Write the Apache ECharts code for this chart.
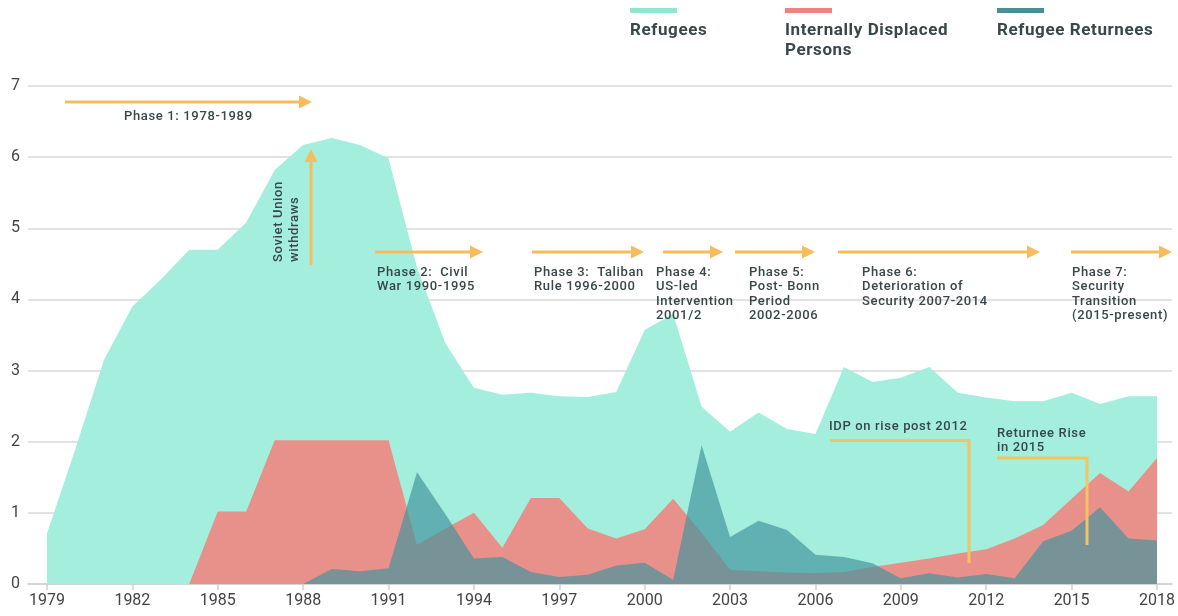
<!DOCTYPE html>
<html>
<head>
<meta charset="utf-8">
<script src="https://cdn.jsdelivr.net/npm/echarts@6/dist/echarts.min.js"></script>
<style>
html,body{margin:0;padding:0;background:#fff;}
#chart{width:1178px;height:616px;}
</style>
</head>
<body>
<div id="chart"></div>
<script>
var years = [];
for (var y = 1979; y <= 2018; y++) years.push(y);
var tickYears = [1979,1982,1985,1988,1991,1994,1997,2000,2003,2006,2009,2012,2015,2018];

var refugees = [0.71,1.9,3.15,3.9,4.28,4.7,4.7,5.08,5.82,6.17,6.27,6.17,5.98,4.45,3.38,2.76,2.66,2.69,2.64,2.63,2.7,3.57,3.8,2.49,2.14,2.41,2.18,2.11,3.05,2.84,2.9,3.05,2.69,2.62,2.57,2.57,2.69,2.53,2.64,2.64];
var idp = [0,0,0,0,0,0,1.02,1.02,2.02,2.02,2.02,2.02,2.02,0.55,0.78,1.0,0.51,1.21,1.21,0.78,0.64,0.77,1.2,0.72,0.2,0.18,0.16,0.15,0.17,0.24,0.3,0.36,0.43,0.49,0.64,0.83,1.2,1.56,1.3,1.77];
var returnees = [0,0,0,0,0,0,0,0,0,0,0.21,0.18,0.22,1.57,0.98,0.36,0.38,0.17,0.1,0.13,0.26,0.3,0.06,1.95,0.66,0.89,0.76,0.41,0.38,0.29,0.08,0.15,0.09,0.14,0.08,0.6,0.75,1.08,0.64,0.61];

var seriesNames = ['Refugees', 'Internally Displaced\nPersons', 'Refugee Returnees'];

function pairs(vals) { return years.map(function (yr, i) { return [yr, vals[i]]; }); }

// slight letter spacing for the annotation / legend texts (left-aligned only)
(function () {
  var proto = CanvasRenderingContext2D.prototype;
  var orig = proto.fillText;
  proto.fillText = function () {
    var f = this.font || '';
    if ('letterSpacing' in this) {
      if (/\b(bold|700)\b/.test(f)) this.letterSpacing = '0.6px';
      else if (/\b500\b/.test(f)) this.letterSpacing = '0.65px';
      else this.letterSpacing = '0px';
    }
    return orig.apply(this, arguments);
  };
})();

var ORANGE = '#f6bd5f';
var TXT = '#394749';
var FONT = 'Roboto, "Noto Sans", sans-serif';

function hArrow(x1, x2, y) {
  return [
    { type: 'line', shape: { x1: x1, y1: y, x2: x2 - 10, y2: y }, style: { stroke: ORANGE, lineWidth: 3 }, z: 50 },
    { type: 'polygon', shape: { points: [[x2 - 13, y - 6.5], [x2, y], [x2 - 13, y + 6.5]] }, style: { fill: ORANGE }, z: 50 }
  ];
}
function label(text, x, y, opts) {
  opts = opts || {};
  return {
    type: 'text', x: x, y: y, z: 60, rotation: opts.rotation || 0,
    style: {
      text: text, fill: TXT, fontFamily: FONT, fontSize: opts.size || 13,
      fontWeight: opts.weight || 500, lineHeight: opts.lh || 14.6,
      align: opts.align || 'left', verticalAlign: opts.va || 'middle'
    }
  };
}

var graphics = [];
// legend
var legendColors = ['#8fe6d1', '#ee837d', '#4b8d97'];
var legendX = [630, 785, 997];
for (var i = 0; i < 3; i++) {
  graphics.push({ type: 'rect', shape: { x: legendX[i], y: 8, width: 47, height: 5 }, style: { fill: legendColors[i] }, z: 60 });
  graphics.push(label(seriesNames[i], legendX[i], 21, { size: 17, weight: 700, lh: 20, va: 'top' }));
}
// phase arrows
graphics = graphics.concat(hArrow(65, 312, 102));
graphics.push(label('Phase 1: 1978-1989', 124, 117));
// vertical arrow
graphics.push({ type: 'line', shape: { x1: 311, y1: 265, x2: 311, y2: 160 }, style: { stroke: ORANGE, lineWidth: 3 }, z: 50 });
graphics.push({ type: 'polygon', shape: { points: [[304.5, 162], [311, 149], [317.5, 162]] }, style: { fill: ORANGE }, z: 50 });
graphics.push(label('Soviet Union\nwithdraws', 287, 262, { rotation: Math.PI / 2, lh: 16 }));

graphics = graphics.concat(hArrow(375, 483, 252));
graphics.push(label('Phase 2:  Civil\nWar 1990-1995', 377, 265, { va: 'top' }));
graphics = graphics.concat(hArrow(532, 644, 252));
graphics.push(label('Phase 3:  Taliban\nRule 1996-2000', 534, 265, { va: 'top' }));
graphics = graphics.concat(hArrow(663, 723, 252));
graphics.push(label('Phase 4:\nUS-led\nIntervention\n2001/2', 656, 265, { va: 'top' }));
graphics = graphics.concat(hArrow(735, 815, 252));
graphics.push(label('Phase 5:\nPost- Bonn\nPeriod\n2002-2006', 749, 265, { va: 'top' }));
graphics = graphics.concat(hArrow(838, 1040, 252));
graphics.push(label('Phase 6:\nDeterioration of\nSecurity 2007-2014', 862, 265, { va: 'top' }));
graphics = graphics.concat(hArrow(1071, 1172, 252));
graphics.push(label('Phase 7:\nSecurity\nTransition\n(2015-present)', 1072, 265, { va: 'top' }));

// IDP annotation
graphics.push({ type: 'polyline', shape: { points: [[830, 440.5], [969, 440.5], [969, 563]] }, style: { stroke: '#f2c462', lineWidth: 3, fill: null }, z: 50 });
graphics.push(label('IDP on rise post 2012', 829, 427));
graphics.push({ type: 'polyline', shape: { points: [[997, 458], [1087, 458], [1087, 545]] }, style: { stroke: '#f2c462', lineWidth: 3, fill: null }, z: 50 });
graphics.push(label('Returnee Rise\nin 2015', 997, 426, { va: 'top' }));

var chart = echarts.init(document.getElementById('chart'));
chart.setOption({
  animation: false,
  backgroundColor: '#fff',
  grid: { left: 28, right: 6, top: 86, bottom: 32, containLabel: false },
  xAxis: {
    type: 'value', min: 1978.333, max: 2018.527,
    axisLine: { show: true, lineStyle: { color: '#cfcfcf', width: 1.5 } },
    axisTick: { show: true, length: 6, lineStyle: { color: '#cfcfcf', width: 1.5 }, customValues: tickYears },
    axisLabel: { customValues: tickYears, color: '#444', fontSize: 16, fontFamily: FONT, margin: 9, formatter: function (v) { return String(v); } },
    splitLine: { show: false }
  },
  yAxis: {
    type: 'value', min: 0, max: 7, interval: 1,
    axisLine: { show: false }, axisTick: { show: false },
    axisLabel: { color: '#444', fontSize: 16, fontFamily: FONT, margin: 8 },
    splitLine: { show: true, lineStyle: { color: '#d9d9d9', width: 1.5 } }
  },
  series: [
    { name: seriesNames[0], type: 'line', data: pairs(refugees), symbol: 'none', lineStyle: { width: 0 }, areaStyle: { color: '#a3eedd', opacity: 1 }, z: 2 },
    { name: seriesNames[1], type: 'line', data: pairs(idp), symbol: 'none', lineStyle: { width: 0 }, areaStyle: { color: '#e8918a', opacity: 1 }, z: 3 },
    { name: seriesNames[2], type: 'line', data: pairs(returnees), symbol: 'none', lineStyle: { width: 0 }, areaStyle: { color: 'rgb(67,147,159)', opacity: 0.68 }, z: 4 }
  ],
  graphic: graphics
});
</script>
</body>
</html>
